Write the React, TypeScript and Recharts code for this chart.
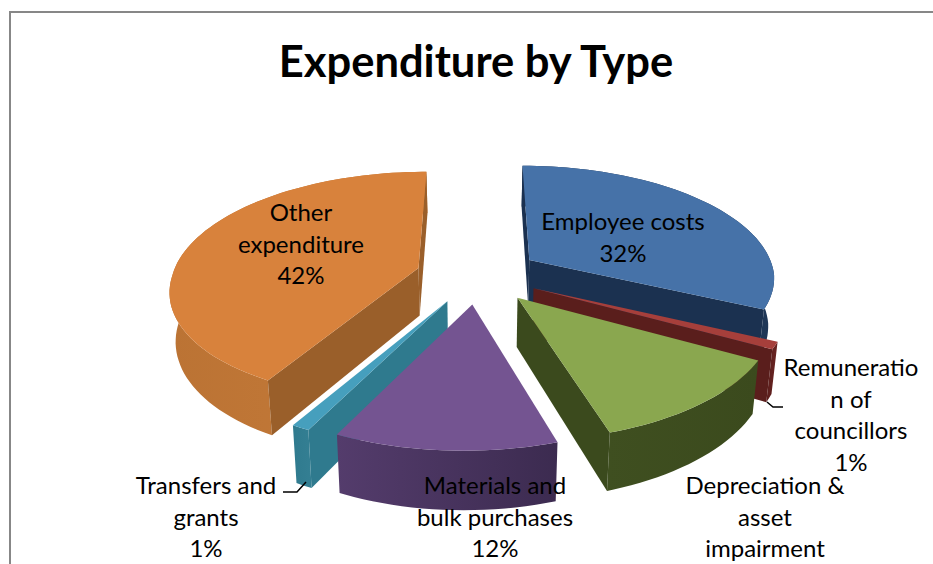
import { PieChart, Pie } from 'recharts';

// Slices listed clockwise; the list begins at Transfers so that the nearer slices paint last.
const categories = [
  'Transfers and grants',
  'Other expenditure',
  'Employee costs',
  'Remuneration of councillors',
  'Depreciation & asset impairment',
  'Materials and bulk purchases',
];
const shares = [1, 42, 32, 1, 12, 12];

const tableData = categories.map((name, i) => ({ name, value: shares[i] }));

const WIDTH = 933;
const HEIGHT = 564;
const FONT = 'Lato, "Open Sans", sans-serif';

// Clockwise angle from 12 o'clock at which the first listed slice begins
const FIRST_SLICE_ANGLE = 205.2;

// Fake 3D projection of the pie
const EXPLODE = 62;
const TILT = 0.46;
const PERSPECTIVE = 0.155;
const NEAR_SHEAR = 40;
const THICKNESS = 48;
const FLOOR_SHRINK = 0.98;

interface SliceColors {
  top: string;
  side: string;
  rimFrom: string;
  rimTo: string;
}

const PALETTE: Record<string, SliceColors> = {
  'Employee costs': { top: '#4672a8', side: '#1b3150', rimFrom: '#1b3150', rimTo: '#1f3757' },
  'Remuneration of councillors': { top: '#a63f3b', side: '#5a1e1c', rimFrom: '#5a1e1c', rimTo: '#6a2422' },
  'Depreciation & asset impairment': { top: '#8aa74f', side: '#3b4a1d', rimFrom: '#3f4f20', rimTo: '#3b4a1d' },
  'Materials and bulk purchases': { top: '#745491', side: '#4b3562', rimFrom: '#543c6c', rimTo: '#3c2b50' },
  'Transfers and grants': { top: '#469fbd', side: '#2f7a8e', rimFrom: '#2f7a8e', rimTo: '#347f93' },
  'Other expenditure': { top: '#d8823c', side: '#9a5f2a', rimFrom: '#bb7334', rimTo: '#c67b39' },
};

const LABEL_LINES: Record<string, string[]> = {
  'Employee costs': ['Employee costs', '32%'],
  'Remuneration of councillors': ['Remuneratio', 'n of', 'councillors', '1%'],
  'Depreciation & asset impairment': ['Depreciation &', 'asset', 'impairment'],
  'Materials and bulk purchases': ['Materials and', 'bulk purchases', '12%'],
  'Transfers and grants': ['Transfers and', 'grants', '1%'],
  'Other expenditure': ['Other', 'expenditure', '42%'],
};

const LABEL_POS: Record<string, { x: number; y: number }> = {
  'Employee costs': { x: 623, y: 230 },
  'Remuneration of councillors': { x: 851, y: 376 },
  'Depreciation & asset impairment': { x: 765, y: 494 },
  'Materials and bulk purchases': { x: 495, y: 494 },
  'Transfers and grants': { x: 206, y: 494 },
  'Other expenditure': { x: 301, y: 221 },
};

const LEADERS: Record<string, string> = {
  'Remuneration of councillors': '783,407 773,407 767,402',
  'Transfers and grants': '283,492 297,492 306,482',
};

const rad = (deg: number) => (deg * Math.PI) / 180;
const toPath = (pts: number[][]) => 'M' + pts.map((p) => `${p[0].toFixed(1)},${p[1].toFixed(1)}`).join('L') + 'Z';

const Slice3D = (props: any) => {
  const { cx, cy, outerRadius: R, startAngle, endAngle, name } = props;
  const t0 = 90 - startAngle;
  const t1 = 90 - endAngle;
  const mid = (t0 + t1) / 2;
  const colors = PALETTE[name];
  const ox = EXPLODE * Math.sin(rad(mid));
  const oy = EXPLODE * Math.cos(rad(mid));

  const project = (X: number, Y: number, floor: boolean) => {
    const s = 1 / (1 + (PERSPECTIVE * Y) / R);
    // the front of the pie leans slightly to the left
    const shear = NEAR_SHEAR * Math.max(s - 1, 0);
    const x = cx - shear + X * s * (floor ? FLOOR_SHRINK : 1);
    const y = cy - Y * TILT * s + (floor ? THICKNESS * s : 0);
    return [x, y];
  };
  const rimPoint = (t: number, floor: boolean) =>
    project(ox + R * Math.sin(rad(t)), oy + R * Math.cos(rad(t)), floor);

  const arc: number[] = [];
  for (let t = t0; t < t1; t += 2) arc.push(t);
  arc.push(t1);

  const apexTop = project(ox, oy, false);
  const apexFloor = project(ox, oy, true);
  const topRim = arc.map((t) => rimPoint(t, false));
  const floorRim = arc.map((t) => rimPoint(t, true));

  // Side walls, kept only when they turn toward the viewer
  const wall = (t: number) => [apexTop, rimPoint(t, false), rimPoint(t, true), apexFloor];
  const turn = (q: number[][]) => {
    let a = 0;
    q.forEach((p, i) => {
      const n = q[(i + 1) % q.length];
      a += p[0] * n[1] - n[0] * p[1];
    });
    return a;
  };
  const startWall = wall(t0);
  const endWall = wall(t1);
  const gradId = `rim-${Math.round(t0)}`;

  return (
    <g>
      <defs>
        <linearGradient id={gradId} x1="0" y1="0" x2="1" y2="0">
          <stop offset="0" stopColor={colors.rimFrom} />
          <stop offset="1" stopColor={colors.rimTo} />
        </linearGradient>
      </defs>
      <path d={toPath([...topRim, ...[...floorRim].reverse()])} fill={`url(#${gradId})`} />
      {turn(startWall) < 0 && <path d={toPath(startWall)} fill={colors.side} />}
      {turn(endWall) > 0 && <path d={toPath(endWall)} fill={colors.side} />}
      <path d={toPath([apexTop, ...topRim])} fill={colors.top} />
    </g>
  );
};

const SliceLabel = (props: any) => {
  const name = props.name ?? props.payload?.name;
  const pos = LABEL_POS[name];
  return (
    <g>
      {LEADERS[name] && <polyline points={LEADERS[name]} fill="none" stroke="#000" strokeWidth={1.5} />}
      <text x={pos.x} y={pos.y} textAnchor="middle" fontFamily={FONT} fontSize={24} fill="#000">
        {LABEL_LINES[name].map((line, i) => (
          <tspan key={line} x={pos.x} dy={i === 0 ? 0 : 31.6}>
            {line}
          </tspan>
        ))}
      </text>
    </g>
  );
};

const App = () => {
  return (
    <div style={{ position: 'absolute', left: 0, top: 0, width: WIDTH, height: HEIGHT, overflow: 'hidden' }}>
      {/* chart frame runs past the right and bottom edges of the page */}
      <div
        style={{
          position: 'absolute',
          left: 9,
          top: 11,
          width: 1000,
          height: 600,
          border: '2px solid #878787',
        }}
      />
      <PieChart width={WIDTH} height={HEIGHT} margin={{ top: 0, right: 0, bottom: 0, left: 0 }}>
        <text x={476} y={77} textAnchor="middle" fontFamily={FONT} fontSize={43.5} fontWeight={700} fill="#000">
          Expenditure by Type
        </text>
        <Pie
          data={tableData}
          dataKey="value"
          nameKey="name"
          cx={478}
          cy={275}
          outerRadius={246}
          startAngle={90 - FIRST_SLICE_ANGLE}
          endAngle={90 - FIRST_SLICE_ANGLE - 360}
          stroke="none"
          isAnimationActive={false}
          shape={Slice3D}
          label={SliceLabel}
          labelLine={false}
        />
      </PieChart>
    </div>
  );
};

export default App;
